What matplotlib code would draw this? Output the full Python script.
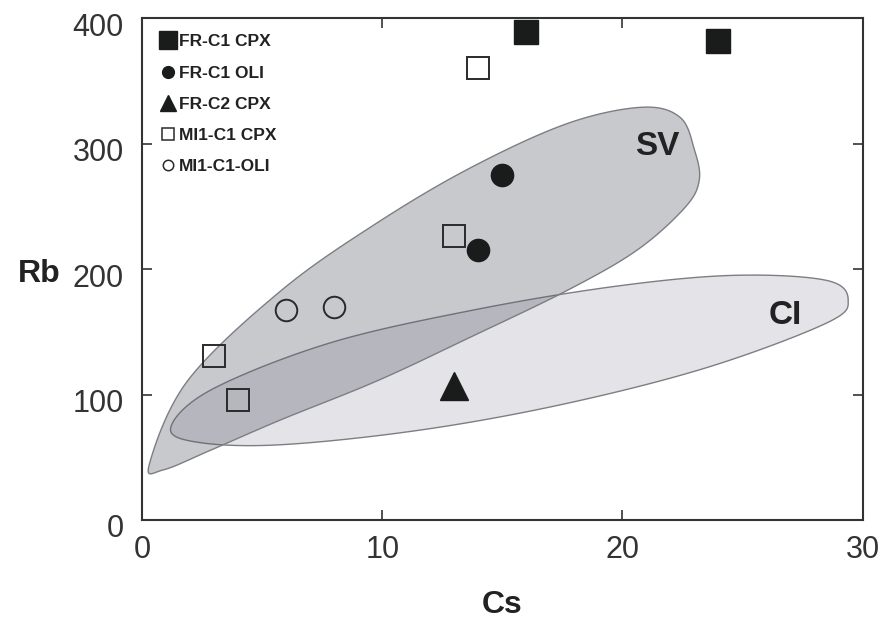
import numpy as np
import matplotlib
matplotlib.use("Agg")
import matplotlib.pyplot as plt
from matplotlib.patches import Polygon
from matplotlib.lines import Line2D
from matplotlib.transforms import ScaledTranslation

plt.rcParams['font.family'] = ['Liberation Sans', 'DejaVu Sans']

# ---- data ----
fr_c1_cpx_cs = [16.0, 24.0]
fr_c1_cpx_rb = [389, 382]
fr_c1_oli_cs = [15.0, 14.0]
fr_c1_oli_rb = [275, 215]
fr_c2_cpx_cs = [13.0]
fr_c2_cpx_rb = [107]
mi1_c1_cpx_cs = [14.0, 13.0, 3.0, 4.0]
mi1_c1_cpx_rb = [360, 226, 131, 96]
mi1_c1_oli_cs = [6.0, 8.0]
mi1_c1_oli_rb = [167, 170]

# field outlines (Cs, Rb)
sv_cs = [0.3, 1.9, 5.8, 9.8, 13.7, 17.7, 20.8, 22.4, 23.0, 23.2, 22.6, 20.6, 17.7, 13.7, 9.8, 5.8, 2.9, 0.9]
sv_rb = [44, 111, 183, 237, 281, 316, 329, 321, 295, 271, 249, 215, 183, 146, 111, 80, 56, 40]
ci_cs = [1.2, 2.9, 7.8, 13.7, 19.6, 24.6, 28.5, 29.4, 28.5, 23.6, 17.7, 11.7, 5.8, 2.3]
ci_rb = [74, 104, 141, 167, 186, 195, 191, 175, 157, 122, 93, 72, 60, 62]

legend_labels = ['FR-C1 CPX', 'FR-C1 OLI', 'FR-C2 CPX', 'MI1-C1 CPX', 'MI1-C1-OLI']


def smooth_closed(xs, ys, n=20):
    p = np.column_stack([xs, ys]).astype(float)
    s = np.array([24.0, 1.255])
    p = p * s
    m = len(p)
    out = []
    for i in range(m):
        p0, p1, p2, p3 = p[(i - 1) % m], p[i], p[(i + 1) % m], p[(i + 2) % m]
        for t in np.linspace(0, 1, n, endpoint=False):
            t2, t3 = t * t, t * t * t
            out.append(0.5 * ((2 * p1) + (-p0 + p2) * t + (2 * p0 - 5 * p1 + 4 * p2 - p3) * t2
                              + (-p0 + 3 * p1 - 3 * p2 + p3) * t3))
    return np.array(out) / s


fig = plt.figure(figsize=(8.82, 6.28), dpi=100)
ax = fig.add_axes([0.161, 0.172, 0.817, 0.799])
ax.set_xlim(0, 30)
ax.set_ylim(0, 400)

ci = Polygon(smooth_closed(ci_cs, ci_rb), closed=True, facecolor=(0.35, 0.36, 0.45, 0.16),
             edgecolor='#7d7e84', linewidth=1.0, zorder=1)
sv = Polygon(smooth_closed(sv_cs, sv_rb), closed=True, facecolor=(0.33, 0.34, 0.40, 0.32),
             edgecolor='#7d7e84', linewidth=1.0, zorder=2)
ax.add_patch(ci)
ax.add_patch(sv)

dark = '#1a1c1c'
ax.plot(fr_c1_cpx_cs, fr_c1_cpx_rb, 's', ms=17, color=dark, mec=dark, clip_on=False, zorder=5)
ax.plot(fr_c1_oli_cs, fr_c1_oli_rb, 'o', ms=16, color=dark, mec=dark, clip_on=False, zorder=5)
ax.plot(fr_c2_cpx_cs, fr_c2_cpx_rb, '^', ms=20, color=dark, mec=dark, clip_on=False, zorder=5)
ax.plot(mi1_c1_cpx_cs, mi1_c1_cpx_rb, 's', ms=16.5, mfc='none', mec='#2a2a2a', mew=1.4, clip_on=False, zorder=5)
ax.plot(mi1_c1_oli_cs, mi1_c1_oli_rb, 'o', ms=15.5, mfc='none', mec='#2a2a2a', mew=1.4, clip_on=False, zorder=5)

ax.text(21.45, 298, 'SV', fontsize=24, fontweight='bold', color='#222222', ha='center', va='center')
ax.text(26.8, 163, 'CI', fontsize=24, fontweight='bold', color='#222222', ha='center', va='center')

handles = [
    Line2D([], [], ls='none', marker='s', ms=12.5, color=dark),
    Line2D([], [], ls='none', marker='o', ms=8.5, color=dark),
    Line2D([], [], ls='none', marker='^', ms=11, color=dark),
    Line2D([], [], ls='none', marker='s', ms=8.5, mfc='none', mec='#2a2a2a', mew=1.1),
    Line2D([], [], ls='none', marker='o', ms=7.5, mfc='none', mec='#2a2a2a', mew=1.1),
]
leg = ax.legend(handles, legend_labels, loc='upper left', bbox_to_anchor=(0.003, 0.999), frameon=False,
                prop={'size': 12.5, 'weight': 'bold'}, handlelength=1.0, handletextpad=0.1,
                labelspacing=0.92, borderaxespad=0.5)
for t in leg.get_texts():
    t.set_color('#222222')

ax.set_xticks([0, 10, 20, 30])
ax.set_yticks([0, 100, 200, 300, 400])
ax.tick_params(direction='in', length=7, width=1.2, labelsize=22, colors='#333333',
               top=True, right=True)
ax.tick_params(axis='x', pad=11)
ax.tick_params(axis='y', pad=13)
for lab in ax.get_yticklabels():
    lab.set_transform(lab.get_transform() + ScaledTranslation(0, -6 / 100, fig.dpi_scale_trans))
for sp in ax.spines.values():
    sp.set_linewidth(1.5)
    sp.set_color('#333333')

ax.set_xlabel('Cs', fontsize=23, fontweight='bold', color='#222222', va='center')
ax.xaxis.set_label_coords(0.5, -0.169)
ax.set_ylabel('Rb', fontsize=23, fontweight='bold', color='#222222', rotation=0, va='center', ha='center')
ax.yaxis.set_label_coords(-0.142, 0.49)

fig.savefig('out.png', dpi=100)
